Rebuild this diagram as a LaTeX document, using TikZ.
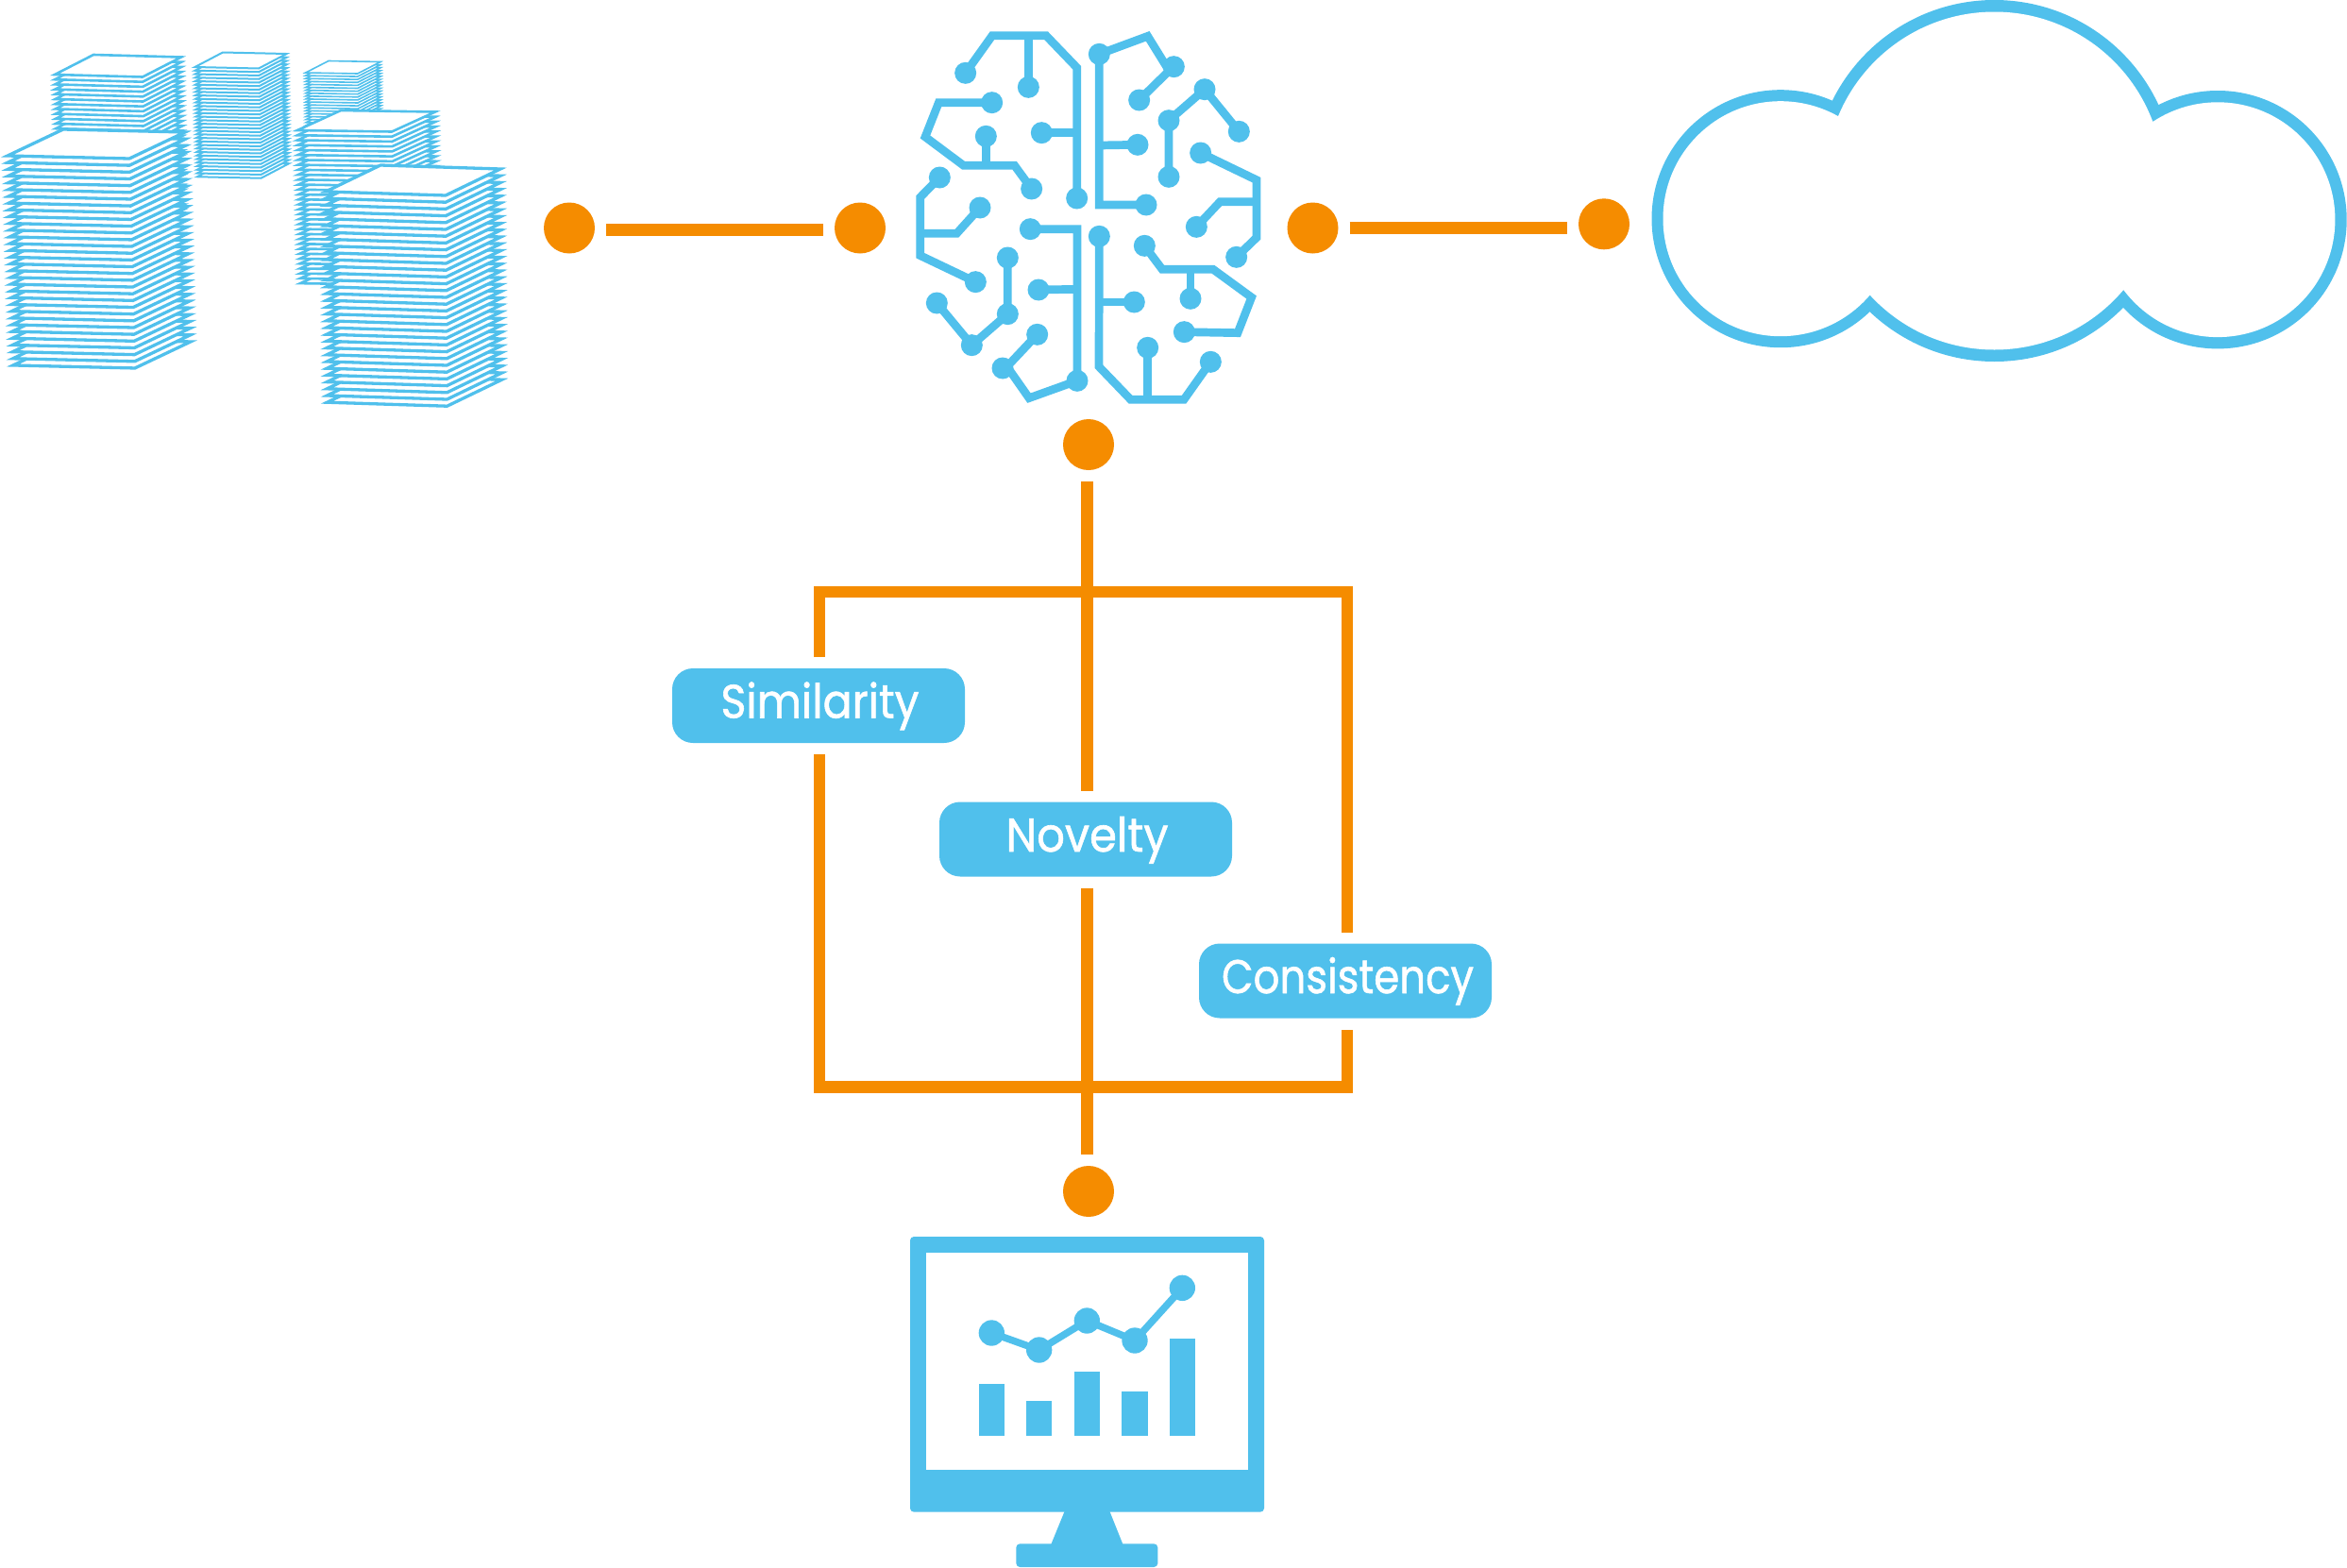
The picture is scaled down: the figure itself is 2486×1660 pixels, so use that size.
\documentclass[tikz,border=0pt]{standalone}
\usepackage{fontspec}
\usepackage{graphicx}
\setmainfont{Poppins}
\newfontfamily\tagfont{Poppins}[RawFeature={embolden=1.2}]
\definecolor{skyb}{HTML}{50C0EC}
\definecolor{orng}{HTML}{F58C00}
\newcommand{\paperstack}[9]{%
  \foreach \i in {31,30,...,0}{%
    \draw[line width=#9pt,draw=skyb,fill=white,miter limit=10,
      shift={({#1+\i*#8},{#2+\i*#7})}]
      (0,0) -- (#3,#4) -- ({#3+#5},{#4+#6}) -- (#5,#6) -- cycle;
  }%
}
\newcommand{\squeezed}[3]{\hspace*{#3pt}\resizebox{#1pt}{\height}{\fontsize{50}{50}\tagfont #2}}
\tikzset{
  odot/.style={circle,fill=orng,draw=none,minimum size=54pt,inner sep=0pt,outer sep=12pt},
  oline/.style={draw=orng,line width=12.5pt},
  tagbox/.style={rectangle,rounded corners=22pt,fill=skyb,text=white,minimum width=310pt,
    minimum height=79pt,inner sep=0pt,outer sep=12pt,text height=41pt,text depth=15pt},
  bline/.style={draw=skyb,line width=8.7pt,miter limit=10},
  bdot/.style={fill=skyb},
}
\begin{document}
\begin{tikzpicture}[x=1pt,y=-1pt]
\useasboundingbox (0,0) rectangle (2486,1660);
\fill[white] (0,0) rectangle (2486,1660);
% paper stacks
\paperstack{323.7}{77}{24.3}{-12.5}{55}{1}{3.1}{0.03}{1.6}
\paperstack{58}{79}{41}{-21}{93}{2.5}{5.2}{0.1}{2.6}
\paperstack{206.5}{71}{29.5}{-15.5}{67.5}{1.5}{3.75}{0.08}{2}
\paperstack{315}{138}{46}{-21}{100}{1.5}{5.23}{0.1}{2.6}
\paperstack{8}{165}{59}{-28}{129}{3}{7.16}{0.19}{3.3}
\paperstack{345}{203}{58}{-28}{127}{4}{7.2}{0.05}{3.3}
% cloud
\fill[skyb] (1886,231.7) circle (136.5) (2112.5,191.5) circle (191.5) (2349,232.7) circle (136.7);
\fill[white] (1886,231.7) circle (124.5) (2112.5,191.5) circle (179) (2349,232.7) circle (124.4);
% brain
\begin{scope}[shift={(950,10)},x=0.33333pt,y=-0.33333pt]
\draw[bline] (218,202) -- (303,83) -- (474,83) -- (572,185) -- (572,600);
\draw[bline] (418,247) -- (418,83);
\draw[bline] (302,296) -- (133,296) -- (90,405) -- (212,496) -- (374,496) -- (428,570);
\draw[bline] (283,403) -- (283,496);
\draw[bline] (460,392) -- (572,392);
\draw[bline] (136,534) -- (74,597) -- (74,782) -- (250,866);
\draw[bline] (264,630) -- (190,712) -- (74,712);
\draw[bline] (352,789) -- (352,968) -- (238,1067) -- (127,933);
\draw[bline] (424,698) -- (573,698) -- (573,1180) -- (420,1235) -- (350,1135) -- (446,1033);
\draw[bline] (450,891) -- (573,889);
\draw[bline] (770,288) -- (865,195) -- (797,85) -- (643,142) -- (643,621) -- (792,621);
\draw[bline] (765,430) -- (643,432);
\draw[bline] (864,532) -- (864,353) -- (978,254) -- (1087,388);
\draw[bline] (965,456) -- (1143,542) -- (1143,725) -- (1079,787);
\draw[bline] (952,691) -- (1027,611) -- (1143,611);
\draw[bline] (643,721) -- (642,1135) -- (743,1240) -- (912,1240) -- (997,1120);
\draw[bline] (797,1075) -- (797,1240);
\draw[bline] (754,930) -- (643,930);
\draw[bline] (787,751) -- (843,826) -- (1005,826) -- (1127,915) -- (1083,1028) -- (913,1025);
\draw[bline] (933,919) -- (933,826);
\foreach \p in {(218,202),(418,247),(302,296),(283,403),(428,570),(460,392),(572,600),
  (136,534),(250,866),(264,630),(352,789),(352,968),(238,1067),(127,933),(424,698),(573,1180),
  (336,1140),(446,1033),(450,891),(643,142),(880,182),(770,288),(792,621),(765,430),
  (978,254),(864,353),(864,532),(1087,388),(965,456),(1079,787),(952,691),(643,721),(997,1120),
  (797,1075),(754,930),(787,751),(913,1025),(933,919)}
  \fill[bdot] \p circle (34.5);
\end{scope}
% monitor
\begin{scope}[shift={(940,1290)},x=0.33333pt,y=-0.33333pt]
\fill[skyb,rounded corners=4pt] (72,60) rectangle (1197,935);
\fill[white] (122,111) rectangle (1147,800);
\fill[skyb] (564,930) -- (705,930) -- (749,1040) -- (519,1040) -- cycle;
\fill[skyb,rounded corners=4pt] (409,1036) rectangle (859,1110);
\fill[skyb] (291,528) rectangle (372,693);
\fill[skyb] (442,582) rectangle (523,693);
\fill[skyb] (594,489) rectangle (675,693);
\fill[skyb] (745,552) rectangle (827,693);
\fill[skyb] (897,385) rectangle (978,693);
\draw[draw=skyb,line width=7.5pt] (331,366) -- (482,420) -- (634,327) -- (786,390) -- (937,223);
\foreach \p in {(331,366),(482,420),(634,327),(786,390),(937,223)}
  \fill[skyb] \p circle (41);
\end{scope}
% connector dots
\node[odot] (d1) at (603,241.5) {};
\node[odot] (d2) at (911,241.5) {};
\node[odot] (d3) at (1390.5,241.5) {};
\node[odot] (d4) at (1699,237.3) {};
\node[odot] (d5) at (1153,471) {};
\node[odot] (d6) at (1153,1262) {};
% metric boxes
\node[tagbox] (sim) at (867,747.5) {\squeezed{210}{Similarity}{3}};
\node[tagbox] (nov) at (1150,889) {\squeezed{172}{Novelty}{3}};
\node[tagbox] (con) at (1425,1039) {\squeezed{267}{Consistency}{5}};
% frame corners
\coordinate (tl) at (868,627);
\coordinate (tr) at (1427,627);
\coordinate (bl) at (868,1151.7);
\coordinate (br) at (1427,1151.7);
% connectors
\draw[oline] ([yshift=-1.8pt]d1.east) -- ([yshift=-1.8pt]d2.west);
\draw[oline] (d3.east) -- (d4.west |- d3.east);
\draw[oline] (1151.3,0 |- d5.south) -- (1151.3,0 |- nov.north);
\draw[oline] (1151.3,0 |- nov.south) -- (1151.3,0 |- d6.north);
\draw[oline,line join=miter] (tl |- sim.north) -- (tl) -- (tr) -- (tr |- con.north);
\draw[oline,line join=miter] (bl |- sim.south) -- (bl) -- (br) -- (br |- con.south);
\end{tikzpicture}
\end{document}
